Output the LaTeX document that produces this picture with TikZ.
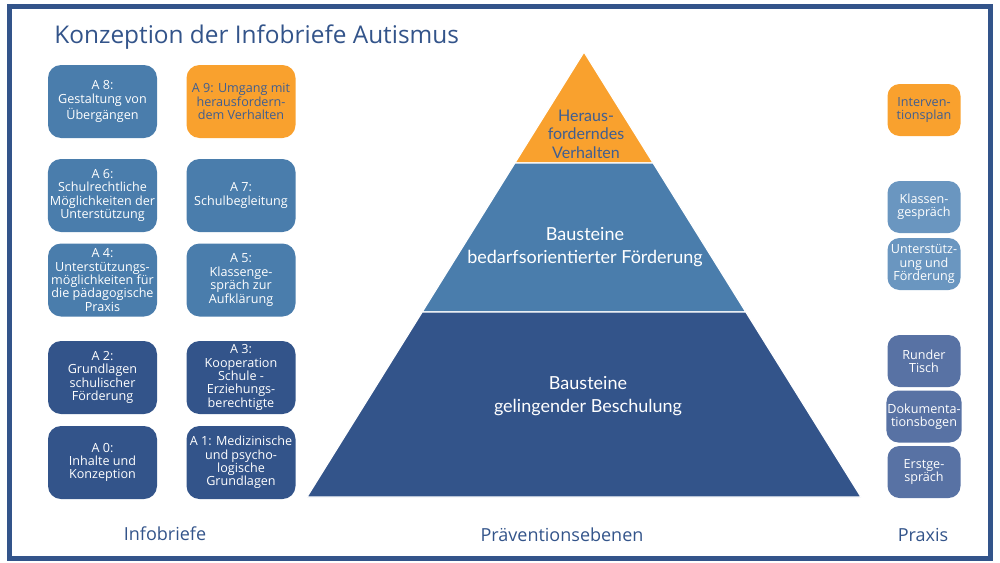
\documentclass[tikz,border=0pt]{standalone}
\usepackage{fontspec}
\setmainfont{Open Sans}
\newfontfamily\pyrfont{Lato}
\usetikzlibrary{positioning}
\definecolor{darkblue}{HTML}{33548A}
\definecolor{midblue}{HTML}{4A7DAC}
\definecolor{lightblue}{HTML}{6A96C0}
\definecolor{slateblue}{HTML}{5872A4}
\definecolor{boxorange}{HTML}{F9A12E}
\definecolor{orangetext}{HTML}{3F5E91}

\begin{document}
\begin{tikzpicture}[
    x=0.5pt, y=-0.5pt,
    on grid,
    every node/.style={font=\fontsize{6.3}{6.7}\selectfont, align=center},
    brief/.style={rounded corners=6.5pt, minimum width=54.5pt, minimum height=36.5pt, inner sep=1pt, text=white},
    praxis/.style={rounded corners=6pt, minimum width=36.5pt, minimum height=26pt, inner sep=0.5pt, text=white},
    caption/.style={font=\fontsize{9}{11}\selectfont, text=darkblue, anchor=base},
    level/.style={font=\pyrfont\fontsize{9}{11.5}\selectfont}
]
   \useasboundingbox (0,0) rectangle (1000,562);
   \draw[darkblue, line width=2.5pt] (9.5,6.5) rectangle (990.5,558.5);

   % Title
   \node[anchor=base west, inner sep=0pt, font=\fontsize{12.2}{15}\selectfont, text=darkblue] (title) at (54,43) {Konzeption der Infobriefe Autismus};

   % Infobriefe
   \node[brief, fill=midblue] (a8) at (102.5,101.5) {A 8:\\Gestaltung von\\Übergängen};
   \node[brief, fill=boxorange, text=orangetext] (a9) [right=69.25pt of a8] {A 9: Umgang mit\\herausfordern-\\dem Verhalten};
   \node[brief, fill=midblue] (a6) [below=47pt of a8] {A 6:\\Schulrechtliche\\Möglichkeiten der\\Unterstützung};
   \node[brief, fill=midblue] (a7) [right=69.25pt of a6] {A 7:\\Schulbegleitung};
   \node[brief, fill=midblue] (a4) [below=42.25pt of a6] {A 4:\\Unterstützungs-\\möglichkeiten für\\die pädagogische\\Praxis};
   \node[brief, fill=midblue] (a5) [right=69.25pt of a4] {A 5:\\Klassenge-\\spräch zur\\Aufklärung};
   \node[brief, fill=darkblue] (a2) [below=48.75pt of a4] {A 2:\\Grundlagen\\schulischer\\Förderung};
   \node[brief, fill=darkblue] (a3) [right=69.25pt of a2] {A 3:\\Kooperation\\Schule -\\Erziehungs-\\berechtigte};
   \node[brief, fill=darkblue] (a0) [below=42.5pt of a2] {A 0:\\Inhalte und\\Konzeption};
   \node[brief, fill=darkblue] (a1) [right=69.25pt of a0] {A 1: Medizinische\\und psycho-\\logische\\Grundlagen};

   % Praeventionsebenen
   \fill[boxorange, draw=white, line width=0.6pt] (584,52) -- (653.1,163) -- (514.9,163) -- cycle;
   \fill[midblue, draw=white, line width=0.6pt] (514.9,163) -- (653.1,163) -- (745.8,312) -- (422.2,312) -- cycle;
   \fill[darkblue, draw=white, line width=0.6pt] (422.2,312) -- (745.8,312) -- (861,497) -- (307,497) -- cycle;
   \node[level, font=\pyrfont\fontsize{8}{9.3}\selectfont, text=orangetext] (lvltop) at (586,134) {Heraus-\\forderndes\\Verhalten};
   \node[level, text=white] (lvlmid) at (585,247.5) {Bausteine\\bedarfsorientierter Förderung};
   \node[level, text=white] (lvlbot) at (588,396.5) {Bausteine\\gelingender Beschulung};

   % Praxis
   \node[praxis, fill=boxorange, text=orangetext] (plan) at (924,110) {Interven-\\tionsplan};
   \node[praxis, fill=lightblue] (klasse) [below=48.5pt of plan] {Klassen-\\gespräch};
   \node[praxis, fill=lightblue] (foerd) [below=28.5pt of klasse] {Unterstütz-\\ung und\\Förderung};
   \node[praxis, fill=slateblue] (tisch) [below=48.5pt of foerd] {Runder\\Tisch};
   \node[praxis, fill=slateblue] (doku) [below=27.75pt of tisch] {Dokumenta-\\tionsbogen};
   \node[praxis, fill=slateblue] (erst) [below=27.75pt of doku] {Erstge-\\spräch};

   % Captions
   \node[caption] (capbrief) at (165,540) {Infobriefe};
   \node[caption] (capebene) at (562,541) {Präventionsebenen};
   \node[caption] (cappraxis) at (923,541) {Praxis};

\end{tikzpicture}
\end{document}
